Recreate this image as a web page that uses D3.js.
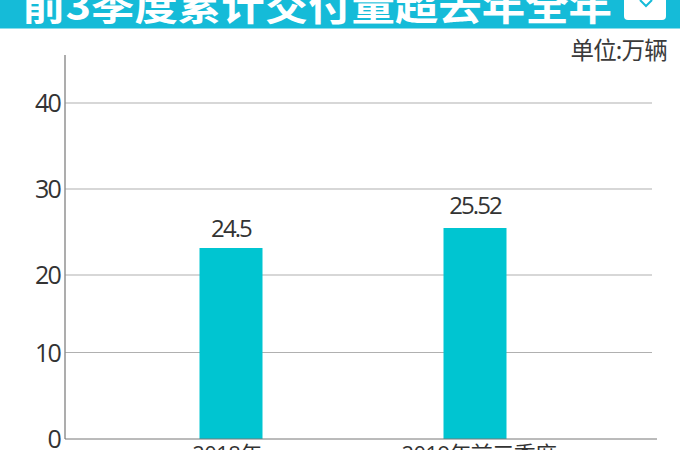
<!DOCTYPE html>
<html><head><meta charset="utf-8">
<script src="https://cdn.jsdelivr.net/npm/d3@7"></script>
<style>html,body{margin:0;padding:0;background:#fff}svg{display:block}text{font-family:"Open Sans","Noto Sans CJK SC",sans-serif}</style>
</head><body><svg width="680" height="450"></svg>
<script>
const titleText = "前3季度累计交付量超去年全年";
const unitText = "单位:万辆";
const categories = ["2018年", "2019年前三季度"];
const values = [24.5, 25.52];
const valueLabels = ["24.5", "25.52"];
const yTicks = [0, 10, 20, 30, 40];

const svg = d3.select("svg");
// banner
svg.append("rect").attr("x",0).attr("y",0).attr("width",680).attr("height",28.5).attr("fill","#15bbd8");
svg.append("text").attr("x",22).attr("y",20).attr("font-size",39).attr("font-weight",700).attr("fill","#fff")
  .style("font-family",'"Noto Sans CJK SC",sans-serif')
  .attr("textLength",590).attr("lengthAdjust","spacingAndGlyphs").text(titleText);
svg.append("rect").attr("x",624).attr("y",-10).attr("width",42).attr("height",30).attr("rx",4).attr("fill","#fff");
svg.append("path").attr("d","M640 0 L646 6 L652 0").attr("fill","none").attr("stroke","#15bbd8").attr("stroke-width",2);

svg.append("text").attr("x",667).attr("y",59).attr("text-anchor","end").attr("font-size",23.5).attr("font-weight",400).attr("fill","#3a3a3a").attr("letter-spacing",-0.8)
  .style("font-family",'"Noto Sans CJK SC",sans-serif').text(unitText);

// the picture's gridlines are not evenly spaced, so the axis scale is piecewise
const y = d3.scaleLinear().domain(yTicks).range([439,352.5,275,189,103]);
const barY = d3.scaleLinear().domain([0, values[0], values[1]]).range([439,248,228]);
const x = d3.scaleBand().domain(categories).range([109,597]).paddingInner(0).paddingOuter(0);
const barW = 63;

const g = svg.append("g");
g.selectAll("line.grid").data(yTicks.filter(d=>d>0)).join("line").attr("class","grid")
  .attr("x1",65).attr("x2",652).attr("y1",d=>y(d)).attr("y2",d=>y(d)).attr("stroke","#b0b0b0").attr("stroke-width",1.1);
g.selectAll("text.tick").data(yTicks).join("text").attr("class","tick")
  .attr("x",60).attr("y",d=>y(d)+9).attr("text-anchor","end").attr("font-size",25).attr("font-weight",400).attr("letter-spacing",-1.8).attr("fill","#333").text(d=>d);
g.append("line").attr("x1",65).attr("x2",65).attr("y1",55).attr("y2",439).attr("stroke","#8a8a8a").attr("stroke-width",1.4);

const cx = d => x(d)+x.bandwidth()/2;
g.selectAll("rect.bar").data(categories).join("rect").attr("class","bar")
  .attr("x",d=>cx(d)-barW/2).attr("width",barW)
  .attr("y",(d,i)=>barY(values[i])).attr("height",(d,i)=>439-barY(values[i])).attr("fill","#00c5d1");
g.selectAll("text.val").data(categories).join("text").attr("class","val")
  .attr("x",cx).attr("y",(d,i)=>barY(values[i])-(i?14:11)).attr("text-anchor","middle").attr("font-size",24).attr("font-weight",400).attr("letter-spacing",-1.9).attr("fill","#333")
  .text((d,i)=>valueLabels[i]);
g.append("line").attr("x1",65).attr("x2",657).attr("y1",439).attr("y2",439).attr("stroke","#777").attr("stroke-width",1);
g.selectAll("text.cat").data(categories).join("text").attr("class","cat")
  .attr("x",(d,i)=>cx(d)+(i?4:-4)).attr("y",462).attr("text-anchor","middle").attr("font-size",22).attr("font-weight",400).attr("letter-spacing",-0.6).attr("fill","#333").text(d=>d);
</script></body></html>
